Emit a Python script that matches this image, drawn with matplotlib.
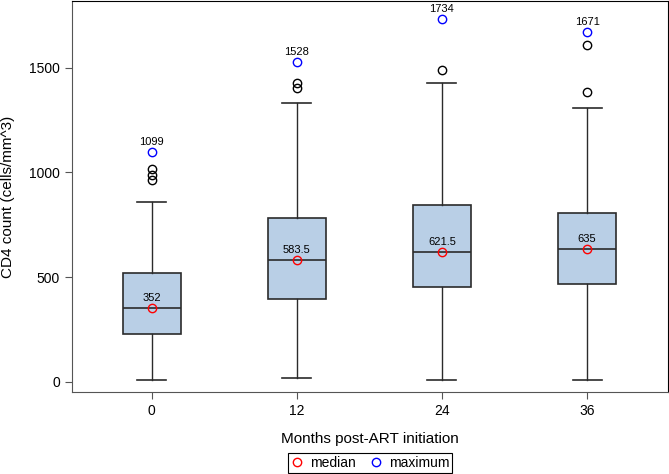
import matplotlib
matplotlib.use('Agg')
import matplotlib.pyplot as plt
from matplotlib.lines import Line2D

plt.rcParams['font.family'] = ['Liberation Sans', 'DejaVu Sans']

months = [0, 12, 24, 36]
q1 = [230, 395, 451, 467]
med = [352, 583.5, 621.5, 635]
q3 = [520, 782, 843, 808]
whislo = [8, 20, 8, 8]
whishi = [858, 1330, 1425, 1306]
outliers = [[962, 989, 1016], [1403, 1427], [1487], [1386, 1608]]
maxima = [1099, 1528, 1734, 1671]

stats = []
for i in range(len(months)):
    stats.append({'q1': q1[i], 'med': med[i], 'q3': q3[i],
                  'whislo': whislo[i], 'whishi': whishi[i],
                  'fliers': outliers[i], 'label': str(months[i])})

fig = plt.figure(figsize=(6.69, 4.74), dpi=100)
ax = fig.add_axes([0.1076, 0.173, 0.891, 0.825])

edge = '#2b2b2b'
ax.bxp(stats, positions=months, widths=4.8, patch_artist=True,
       boxprops=dict(facecolor='#b9cfe6', edgecolor=edge, linewidth=1.2),
       medianprops=dict(color=edge, linewidth=1.2),
       whiskerprops=dict(color=edge, linewidth=1.0),
       capprops=dict(color=edge, linewidth=1.2),
       capwidths=2.4,
       flierprops=dict(marker='o', markerfacecolor='none', markeredgecolor='black',
                       markersize=6, markeredgewidth=1.0))

ax.plot(months, med, 'o', mfc='none', mec='red', ms=6, mew=1.0, zorder=5)
ax.plot(months, maxima, 'o', mfc='none', mec='blue', ms=6, mew=1.0, zorder=5)
for x, m in zip(months, med):
    ax.annotate(f'{m:g}', (x, m), xytext=(0, 3.5), textcoords='offset points',
                ha='center', va='bottom', fontsize=8)
for x, m in zip(months, maxima):
    ax.annotate(f'{m:g}', (x, m), xytext=(0, 3.5), textcoords='offset points',
                ha='center', va='bottom', fontsize=8)

ax.set_xlim(-6.6, 42.7)
ax.set_ylim(-48, 1819)
ax.set_xticks(months)
ax.set_xticklabels([str(m) for m in months])
ax.set_yticks([0, 500, 1000, 1500])
ax.tick_params(labelsize=10, length=5, color='#555555')
for s in ['left', 'bottom']:
    ax.spines[s].set_color('#555555')
ax.set_xlabel('Months post-ART initiation', fontsize=11, labelpad=10)
ax.set_ylabel('CD4 count (cells/mm^3)', fontsize=11, labelpad=10)

handles = [Line2D([], [], marker='o', ls='none', mfc='none', mec='red', ms=6, label='median'),
           Line2D([], [], marker='o', ls='none', mfc='none', mec='blue', ms=6, label='maximum')]
leg = fig.legend(handles=handles, loc='lower center', bbox_to_anchor=(0.553, 0.0), ncol=2,
                 fancybox=False, edgecolor='black', fontsize=10, handlelength=1,
                 handletextpad=0.4, columnspacing=1.0, borderpad=0.2, framealpha=1,
                 borderaxespad=0.1)
leg.get_frame().set_linewidth(0.8)

fig.savefig('out.png', dpi=100)
